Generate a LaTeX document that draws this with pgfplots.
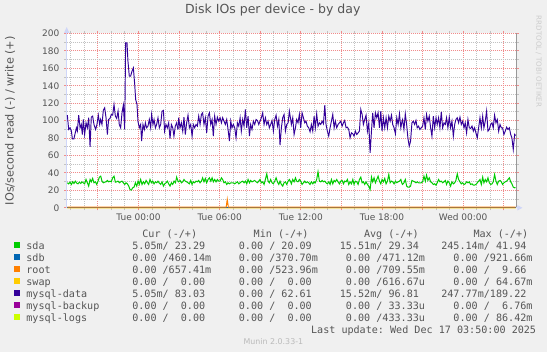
\documentclass[border=0pt]{standalone}
\usepackage{fontspec}
\setmainfont{DejaVu Sans}
\newfontfamily\monofont{DejaVu Sans Mono}
\usepackage{pgfplots}
\pgfplotsset{compat=1.18}
\usepackage{pgfplotstable}
\usetikzlibrary{arrows.meta}

\definecolor{bgcol}{HTML}{F0F0F0}
\definecolor{fontcol}{HTML}{555555}
\definecolor{axiscol}{HTML}{CFD6F8}
\definecolor{mgridcol}{HTML}{F08C8C}
\definecolor{gridcol}{HTML}{C2C2C2}
\definecolor{framecol}{HTML}{999999}
\definecolor{cSda}{HTML}{00CC00}
\definecolor{cSdb}{HTML}{0066B3}
\definecolor{cRoot}{HTML}{FF8000}
\definecolor{cSwap}{HTML}{FFCC00}
\definecolor{cData}{HTML}{330099}
\definecolor{cBackup}{HTML}{990099}
\definecolor{cLogs}{HTML}{CCFF00}

\newcommand\legfont{\monofont\fontsize{10.1bp}{12bp}\selectfont}
\newcommand\axfont{\fontsize{9bp}{10bp}\selectfont}
\newcommand\ylfont{\fontsize{11.3bp}{13bp}\selectfont}
\newcommand\titlefont{\fontsize{12.5bp}{14bp}\selectfont}

% mysql-data, first part (before 02:55)
\pgfplotstableread[row sep=\\]{
h v\\
-5.26 106.3\\ -5.16 89.9\\ -5.06 91.8\\ -4.96 88.0\\ -4.89 79.2\\ -4.77 79.2\\ -4.69 84.9\\ -4.59 91.8\\
-4.52 88.0\\ -4.42 106.3\\ -4.32 91.8\\ -4.23 95.6\\ -4.15 84.1\\ -4.08 101.3\\ -3.98 84.1\\ -3.88 97.5\\
-3.78 91.8\\ -3.68 103.3\\ -3.58 70.0\\ -3.49 104.0\\ -3.39 105.2\\ -3.29 95.6\\ -3.17 89.9\\ -3.07 95.6\\
-2.97 106.3\\ -2.87 95.6\\ -2.80 101.3\\ -2.70 95.6\\ -2.60 112.0\\ -2.50 114.7\\ -2.40 103.3\\ -2.30 84.1\\
-2.21 101.3\\ -2.11 102.5\\ -2.01 107.1\\ -1.91 106.3\\ -1.81 118.5\\ -1.71 105.2\\ -1.61 102.5\\ -1.51 110.9\\
-1.42 95.6\\ -1.32 91.8\\ -1.22 109.0\\ -1.12 117.8\\ -1.02 89.9\\ -0.95 189.3\\ -0.85 189.3\\ -0.78 168.3\\
-0.68 151.1\\ -0.58 151.1\\ -0.48 156.8\\ -0.38 160.6\\ -0.28 141.5\\ -0.21 124.3\\ -0.11 118.5\\ -0.04 99.4\\
0.06 91.8\\ 0.16 95.6\\ 0.23 76.5\\ 0.33 95.6\\ 0.43 89.9\\ 0.51 97.5\\ 0.60 91.8\\ 0.70 93.7\\
0.80 101.3\\ 0.90 91.8\\ 0.97 107.1\\ 1.07 95.6\\ 1.15 101.3\\ 1.25 91.8\\ 1.34 95.6\\ 1.44 103.3\\
1.54 91.8\\ 1.64 95.6\\ 1.74 110.9\\ 1.84 111.7\\ 1.93 88.0\\ 2.03 95.6\\ 2.13 91.8\\ 2.23 97.5\\
2.33 79.5\\ 2.43 95.6\\ 2.53 91.8\\ 2.62 82.2\\ 2.72 93.7\\ 2.82 97.5\\ 2.92 89.9\\
}\dataA

% sda, first part (before 02:55)
\pgfplotstableread[row sep=\\]{
h v\\
-5.26 28.7\\ -5.16 27.5\\ -5.06 29.4\\ -4.96 26.8\\ -4.87 29.8\\ -4.77 27.9\\ -4.67 30.6\\ -4.57 28.3\\
-4.47 27.5\\ -4.37 29.4\\ -4.27 27.9\\ -4.18 29.8\\ -4.08 28.7\\ -3.98 27.5\\ -3.88 32.5\\ -3.78 28.7\\
-3.68 24.9\\ -3.58 32.5\\ -3.49 29.8\\ -3.39 33.7\\ -3.29 28.7\\ -3.19 29.8\\ -3.09 26.8\\ -2.99 30.6\\
-2.89 35.2\\ -2.79 36.3\\ -2.70 30.6\\ -2.60 28.7\\ -2.50 29.4\\ -2.40 29.8\\ -2.30 31.4\\ -2.20 29.8\\
-2.10 30.6\\ -2.01 29.8\\ -1.91 34.4\\ -1.81 36.3\\ -1.71 29.4\\ -1.61 29.8\\ -1.51 30.6\\ -1.41 28.7\\
-1.32 29.8\\ -1.22 30.6\\ -1.12 28.7\\ -1.02 26.8\\ -0.92 28.7\\ -0.82 27.5\\ -0.72 24.9\\ -0.63 21.0\\
-0.53 20.3\\ -0.43 22.9\\ -0.33 23.7\\ -0.23 28.7\\ -0.13 24.9\\ -0.03 30.6\\ 0.06 26.8\\ 0.16 32.5\\
0.26 26.8\\ 0.36 29.8\\ 0.46 27.5\\ 0.56 31.4\\ 0.66 28.7\\ 0.75 26.8\\ 0.85 32.5\\ 0.95 28.7\\
1.05 30.6\\ 1.15 27.5\\ 1.25 29.8\\ 1.35 28.7\\ 1.44 30.6\\ 1.54 28.3\\ 1.64 26.8\\ 1.74 29.8\\
1.84 24.9\\ 1.94 27.5\\ 2.04 28.7\\ 2.13 30.6\\ 2.23 27.5\\ 2.33 24.9\\ 2.43 28.7\\ 2.53 26.8\\
2.63 30.6\\ 2.73 28.7\\ 2.82 35.2\\ 2.92 30.6\\
}\sdaA

% both series from 02:55 to the end (hours relative to Tue 00:00)
\pgfplotstableread[row sep=\\]{
h data sda\\
2.92 89.9 30.6\\ 2.97 103.3 29.8\\ 3.07 91.8 31.4\\ 3.17 97.5 28.7\\ 3.27 88.0 29.8\\ 3.36 104.0 32.5\\
3.46 84.1 30.6\\ 3.56 97.5 29.8\\ 3.66 106.3 28.7\\ 3.76 91.8 27.5\\ 3.86 95.6 31.4\\ 3.96 82.2 26.8\\
4.05 95.6 29.8\\ 4.15 91.8 28.7\\ 4.25 95.6 30.6\\ 4.35 93.7 29.8\\ 4.45 105.2 31.4\\ 4.55 95.6 28.7\\
4.65 107.1 30.6\\ 4.74 109.0 34.4\\ 4.84 95.6 29.8\\ 4.94 103.3 33.7\\ 5.04 86.0 28.7\\ 5.14 105.2 32.5\\
5.24 109.0 34.4\\ 5.34 95.6 30.6\\ 5.44 101.3 34.4\\ 5.53 82.2 29.8\\ 5.63 105.2 32.5\\ 5.73 95.6 29.8\\
5.83 104.0 32.5\\ 5.93 99.4 30.6\\ 6.03 103.3 30.6\\ 6.13 97.5 34.4\\ 6.22 103.3 32.5\\ 6.32 99.4 28.7\\
6.42 95.6 29.8\\ 6.52 101.3 26.8\\ 6.62 89.9 28.7\\ 6.72 76.5 27.5\\ 6.82 99.4 28.7\\ 6.91 91.8 28.7\\
7.01 95.6 28.7\\ 7.11 91.8 27.5\\ 7.21 80.3 28.7\\ 7.31 97.5 29.8\\ 7.41 93.7 27.5\\ 7.51 103.3 28.7\\
7.60 88.0 29.8\\ 7.70 101.3 30.6\\ 7.80 93.7 28.7\\ 7.90 112.8 30.6\\ 8.00 91.8 27.5\\ 8.10 105.2 32.5\\
8.20 82.2 28.7\\ 8.29 95.6 31.4\\ 8.39 89.9 29.8\\ 8.49 99.4 30.6\\ 8.59 95.6 31.4\\ 8.69 101.3 29.8\\
8.79 100.2 28.7\\ 8.89 95.6 30.6\\ 8.98 99.4 32.5\\ 9.08 103.3 28.7\\ 9.18 109.0 29.8\\ 9.28 95.6 26.8\\
9.38 103.3 32.5\\ 9.48 95.6 39.0\\ 9.58 99.4 30.6\\ 9.67 91.8 28.7\\ 9.77 95.6 32.5\\ 9.87 100.2 28.7\\
9.97 88.0 27.5\\ 10.07 101.3 30.6\\ 10.17 106.3 34.4\\ 10.27 93.7 29.8\\ 10.37 101.3 26.8\\ 10.46 71.9 30.6\\
10.56 91.8 26.8\\ 10.66 103.3 24.9\\ 10.76 107.1 28.7\\ 10.86 88.0 29.8\\ 10.96 95.6 26.8\\ 11.06 97.5 30.6\\
11.15 110.9 32.5\\ 11.25 101.3 29.8\\
11.30 95.6 27.5\\ 11.40 103.3 32.5\\ 11.50 84.1 29.8\\ 11.60 91.8 34.4\\ 11.69 101.3 30.6\\ 11.79 97.5 29.8\\
11.89 107.1 32.5\\ 11.99 91.8 30.6\\ 12.09 109.0 26.8\\ 12.19 103.3 28.7\\ 12.29 97.5 30.6\\ 12.38 99.4 28.7\\
12.48 93.7 29.8\\ 12.58 91.8 28.7\\ 12.68 87.2 26.8\\ 12.78 95.6 29.8\\ 12.88 88.0 27.5\\ 12.98 105.2 29.8\\
13.07 91.8 28.7\\ 13.17 107.8 32.5\\ 13.27 93.7 41.3\\ 13.37 97.5 30.6\\ 13.47 95.6 29.8\\ 13.57 99.4 31.4\\
13.67 96.4 29.8\\ 13.77 117.8 30.6\\ 13.86 95.6 28.7\\ 13.96 88.0 27.5\\ 14.06 82.2 29.8\\ 14.16 91.8 26.8\\
14.26 99.4 32.5\\ 14.36 107.1 27.5\\ 14.46 91.8 31.4\\ 14.55 99.4 29.8\\ 14.65 91.8 32.5\\ 14.75 95.6 29.8\\
14.85 97.5 27.5\\ 14.95 99.4 30.6\\ 15.05 93.7 31.4\\ 15.15 97.5 27.5\\ 15.24 100.2 30.6\\ 15.34 91.8 29.8\\
15.44 92.5 32.5\\ 15.54 89.9 26.8\\ 15.64 80.3 29.8\\ 15.74 86.0 27.5\\ 15.84 84.9 32.5\\ 15.93 82.2 26.8\\
16.03 88.0 30.6\\ 16.13 84.1 29.8\\ 16.23 86.0 26.8\\ 16.33 88.0 32.5\\ 16.43 112.8 35.2\\ 16.53 107.1 28.7\\
16.62 95.6 29.8\\ 16.72 101.3 26.8\\ 16.82 106.3 29.8\\ 16.92 88.0 26.8\\ 17.02 97.5 24.9\\ 17.12 63.1 21.0\\
17.22 88.0 35.2\\ 17.31 109.0 29.8\\ 17.41 91.8 34.4\\ 17.51 109.0 28.7\\ 17.61 103.3 32.5\\ 17.71 109.0 36.3\\
17.81 91.8 30.6\\ 17.91 110.9 27.5\\ 18.00 88.0 32.5\\ 18.10 103.3 29.8\\ 18.20 91.8 33.7\\ 18.30 103.3 27.5\\
18.40 91.8 30.6\\ 18.50 105.2 38.2\\ 18.60 99.4 28.7\\ 18.70 106.3 30.6\\ 18.79 95.6 29.8\\ 18.89 91.8 27.5\\
18.99 84.9 30.6\\ 19.09 103.3 28.7\\ 19.19 95.6 29.8\\ 19.29 107.8 30.6\\ 19.39 91.8 32.5\\ 19.48 99.4 27.5\\
19.52 101.3 26.8\\ 19.62 89.9 28.7\\ 19.72 107.8 32.5\\ 19.82 95.6 24.9\\ 19.91 80.3 23.7\\ 20.01 70.7 23.7\\
20.11 76.5 24.9\\ 20.21 97.5 31.4\\ 20.31 99.4 30.6\\ 20.41 95.6 29.8\\ 20.51 100.2 28.7\\ 20.60 91.8 29.8\\
20.70 93.7 28.7\\ 20.80 89.9 28.7\\ 20.90 91.8 28.7\\ 21.00 93.7 29.8\\ 21.10 103.3 36.3\\ 21.20 89.9 30.6\\
21.29 107.1 37.5\\ 21.39 99.4 31.4\\ 21.49 105.2 34.4\\ 21.59 91.8 29.8\\ 21.69 82.2 28.7\\ 21.79 105.2 26.8\\
21.89 91.8 27.5\\ 21.99 103.3 26.0\\ 22.08 95.6 28.7\\ 22.18 103.3 32.5\\ 22.28 91.8 29.8\\ 22.38 110.1 30.6\\
22.48 91.8 28.7\\ 22.58 97.5 29.8\\ 22.68 95.6 31.4\\ 22.77 103.3 26.8\\ 22.87 91.8 30.6\\ 22.97 104.0 28.7\\
23.07 91.8 24.9\\ 23.17 99.4 29.8\\ 23.27 82.2 27.5\\ 23.37 95.6 28.7\\ 23.46 101.3 31.4\\ 23.56 103.3 39.0\\
23.66 97.5 32.5\\ 23.76 104.0 29.8\\ 23.86 95.6 27.5\\ 23.96 99.4 28.7\\ 24.06 91.8 26.8\\ 24.15 97.5 27.5\\
24.25 86.0 29.8\\ 24.35 101.3 28.7\\ 24.45 91.8 29.8\\ 24.55 91.0 26.8\\ 24.65 93.7 27.5\\ 24.75 88.0 26.0\\
24.84 91.8 26.0\\ 24.94 86.0 26.8\\ 25.04 80.3 28.7\\ 25.14 91.8 30.6\\ 25.24 103.3 32.5\\ 25.34 91.8 26.8\\
25.44 105.2 35.2\\ 25.53 91.8 28.7\\ 25.63 99.4 32.5\\ 25.73 110.9 29.8\\ 25.83 88.0 34.4\\ 25.93 89.9 28.7\\
26.03 95.6 26.8\\ 26.13 97.5 27.5\\ 26.22 91.8 29.8\\ 26.32 106.3 38.2\\ 26.42 97.5 30.6\\ 26.52 101.3 26.8\\
26.62 88.0 30.6\\ 26.72 95.6 31.4\\ 26.82 91.8 29.8\\ 26.91 91.8 26.8\\ 27.01 84.1 28.7\\ 27.11 88.0 29.8\\
27.21 92.5 30.6\\ 27.31 89.9 32.5\\ 27.41 91.8 34.4\\ 27.51 84.1 29.8\\ 27.60 80.3 27.5\\ 27.70 66.9 23.7\\
27.80 84.1 22.9\\ 27.87 83.0 23.3\\
}\tabB

\newcommand\legrow[7]{%
  \fill[#2] (14,#1+1.5) rectangle (19.5,#1+7);
  \node[anchor=base west,inner sep=0pt,font=\legfont,text=fontcol] at (26.2,#1) {#3};
  \node[anchor=base west,inner sep=0pt,font=\legfont,text=fontcol] at (119.9,#1) {#4};
  \node[anchor=base west,inner sep=0pt,font=\legfont,text=fontcol] at (226.5,#1) {#5};
  \node[anchor=base west,inner sep=0pt,font=\legfont,text=fontcol] at (333.6,#1) {#6};
  \node[anchor=base west,inner sep=0pt,font=\legfont,text=fontcol] at (441.1,#1) {#7};
}

\begin{document}
\frenchspacing
\begin{tikzpicture}[x=1bp,y=1bp]
\fill[bgcol] (0,0) rectangle (547,352);
\useasboundingbox (0,0) rectangle (547,352);
\begin{axis}[
  at={(66.7bp,144.2bp)}, anchor=south west,
  scale only axis, width=449.8bp, height=174.3bp,
  xmin=-5.307, xmax=27.94, ymin=0, ymax=200,
  clip=false,
  axis background/.style={fill=white},
  axis line style={draw=none},
  tick align=outside, tick pos=both,
  major tick length=2.5bp, minor tick length=2.5bp,
  major tick style={draw=mgridcol, line width=1bp},
  minor tick style={draw=gridcol, line width=1bp},
  grid=both,
  major grid style={draw=mgridcol, line width=1bp, dash pattern=on 1bp off 1bp},
  minor grid style={draw=gridcol, line width=1bp, dash pattern=on 1bp off 1bp},
  xtick={-3,0,3,6,9,12,15,18,21,24,27},
  xticklabels={,Tue 00:00,,Tue 06:00,,Tue 12:00,,Tue 18:00,,Wed 00:00,},
  minor xtick={-5,-4,...,27},
  ytick={0,20,...,200},
  minor ytick={10,30,...,190},
  /pgf/number format/assume math mode=true,
  xticklabel style={font=\axfont, text=fontcol, anchor=base, inner sep=0pt, yshift=-9.7bp},
  yticklabel style={font=\axfont, text=fontcol, anchor=east, inner sep=0pt, xshift=-4.7bp},
  ylabel={IOs/second read (-) / write (+)},
  ylabel style={font=\ylfont, text=fontcol, at={(axis description cs:-0.1261,0.5)}, anchor=center, inner sep=0pt},
  title={Disk IOs per device - by day},
  title style={font=\titlefont, text=fontcol, at={(axis description cs:0.458,1)}, anchor=base, yshift=14.4bp, inner sep=0pt},
]
% frame and axis arrows
\draw[framecol, line width=1bp] (rel axis cs:1,0) -- (rel axis cs:1,1);
\draw[axiscol, line width=1bp, -{Triangle[length=6bp,width=5bp]}] (rel axis cs:0,0) -- (axis cs:-5.307,207.5);
\draw[axiscol, line width=1bp, -{Triangle[length=5bp,width=5bp]}] (rel axis cs:0,0) -- (axis cs:28.38,0);
% series that stay at zero
\addplot[cLogs, line width=1bp] coordinates {(-5.26,0) (27.87,0)};
\addplot[cBackup, line width=1bp] coordinates {(-5.26,0) (27.87,0)};
\addplot[cSwap, line width=1bp] coordinates {(-5.26,0) (6.49,0) (6.56,0.06) (6.63,0) (27.87,0)};
\addplot[cSdb, line width=1bp] coordinates {(-5.26,0.0) (27.87,0.0)};
\addplot[cRoot, line width=1bp] coordinates {(-5.26,0.7) (6.48,0.7) (6.56,9.66) (6.64,0.7) (27.87,0.66)};
% sda
\addplot[cSda, line width=1bp] table[x=h, y=v] {\sdaA};
\addplot[cSda, line width=1bp] table[x=h, y=sda] {\tabB};
% mysql-data
\addplot[cData, line width=0.95bp] table[x=h, y=v] {\dataA};
\addplot[cData, line width=0.95bp] table[x=h, y=data] {\tabB};
\end{axis}

% right-hand credit
\node[rotate=-90, anchor=west, inner sep=0pt, font=\fontsize{7.1bp}{8bp}\selectfont, text=black!20] at (538.7,336.3) {RRDTOOL / TOBI OETIKER};

% legend
\node[anchor=base west,inner sep=0pt,font=\legfont,text=fontcol] at (142.2,115) {Cur (-/+)};
\node[anchor=base west,inner sep=0pt,font=\legfont,text=fontcol] at (253.5,115) {Min (-/+)};
\node[anchor=base west,inner sep=0pt,font=\legfont,text=fontcol] at (363.8,115) {Avg (-/+)};
\node[anchor=base west,inner sep=0pt,font=\legfont,text=fontcol] at (473.3,115) {Max (-/+)};
\legrow{103}{cSda}{sda}{~~5.05m/~23.29}{~~0.00~/~20.09}{~15.51m/~29.34}{245.14m/~41.94}
\legrow{91}{cSdb}{sdb}{~~0.00~/460.14m}{~~0.00~/370.70m}{~~0.00~/471.12m}{~~0.00~/921.66m}
\legrow{79}{cRoot}{root}{~~0.00~/657.41m}{~~0.00~/523.96m}{~~0.00~/709.55m}{~~0.00~/~~9.66}
\legrow{67}{cSwap}{swap}{~~0.00~/~~0.00}{~~0.00~/~~0.00}{~~0.00~/616.67u}{~~0.00~/~64.67m}
\legrow{55}{cData}{mysql-data}{~~5.05m/~83.03}{~~0.00~/~62.61}{~15.52m/~96.81}{247.77m/189.22}
\legrow{43}{cBackup}{mysql-backup}{~~0.00~/~~0.00}{~~0.00~/~~0.00}{~~0.00~/~33.33u}{~~0.00~/~~6.76m}
\legrow{31}{cLogs}{mysql-logs}{~~0.00~/~~0.00}{~~0.00~/~~0.00}{~~0.00~/433.33u}{~~0.00~/~86.42m}
\node[anchor=base west,inner sep=0pt,font=\legfont,text=fontcol] at (310.9,19) {Last update: Wed Dec 17 03:50:00 2025};
\node[anchor=base,inner sep=0pt,font=\fontsize{7.9bp}{9bp}\selectfont,text=black!27] at (273.4,8) {Munin 2.0.33-1};
\end{tikzpicture}
\end{document}
